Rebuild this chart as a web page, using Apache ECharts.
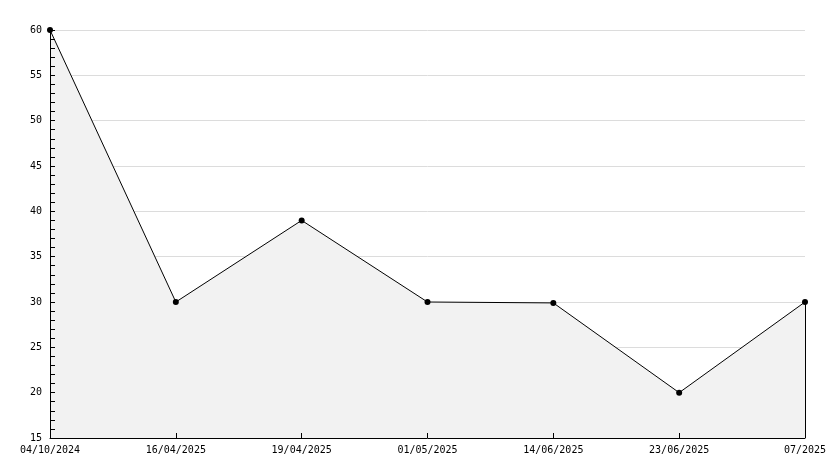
<!DOCTYPE html>
<html>
<head>
<meta charset="utf-8">
<script src="https://cdn.jsdelivr.net/npm/echarts@6/dist/echarts.min.js"></script>
<style>html,body{margin:0;padding:0;background:#fff}#c{width:834px;height:468px}</style>
</head>
<body>
<div id="c"></div>
<script>
const categories = ['04/10/2024', '16/04/2025', '19/04/2025', '01/05/2025', '14/06/2025', '23/06/2025', '07/2025'];
const values = [60, 30, 39, 30, 29.9, 20, 30];
const yMin = 15, yMax = 60, yStep = 5;

const chart = echarts.init(document.getElementById('c'), null, {renderer: 'canvas'});
const font = {fontFamily: 'DejaVu Sans Mono', fontSize: 10, color: '#000'};
const last = categories.length - 1;
chart.setOption({
  animation: false,
  backgroundColor: '#fff',
  grid: {left: 50, right: 29, top: 30, bottom: 30, containLabel: false},
  xAxis: [{
    type: 'category', data: categories, boundaryGap: false, position: 'bottom', z: 0,
    axisLine: {show: false}, axisTick: {show: false}, axisLabel: {show: false},
    splitLine: {show: false}
  }, {
    type: 'category', data: categories, boundaryGap: false, position: 'bottom', z: 10,
    axisLine: {show: true, onZero: false, lineStyle: {color: '#000', width: 1}},
    axisTick: {show: true, inside: true, length: 5, lineStyle: {color: '#000'}},
    axisLabel: Object.assign({margin: 7, interval: 0}, font),
    splitLine: {show: false}
  }],
  yAxis: [{
    type: 'value', min: yMin, max: yMax, interval: yStep, position: 'left', z: 0,
    axisLine: {show: false}, axisTick: {show: false}, axisLabel: {show: false},
    splitLine: {show: true, lineStyle: {color: '#dcdcdc', width: 1}}
  }, {
    type: 'value', min: yMin, max: yMax, interval: yStep, position: 'left', z: 10,
    axisLine: {show: true, onZero: false, lineStyle: {color: '#000', width: 1}},
    axisTick: {show: true, inside: true, length: 5, lineStyle: {color: '#000'}},
    minorTick: {show: true, splitNumber: 5, length: 5, lineStyle: {color: '#000'}},
    axisLabel: Object.assign({margin: 8}, font),
    splitLine: {show: false}
  }],
  series: [{
    type: 'line', data: values, xAxisIndex: 0, yAxisIndex: 0,
    symbol: 'circle', symbolSize: 6,
    itemStyle: {color: '#000'},
    lineStyle: {color: '#000', width: 1},
    areaStyle: {color: '#f2f2f2', opacity: 1, origin: 'start'},
    markLine: {
      silent: true, symbol: 'none', label: {show: false},
      lineStyle: {color: '#000', width: 1, type: 'solid'},
      data: [[{coord: [categories[last], values[last]]}, {coord: [categories[last], yMin]}]]
    }
  }]
});
</script>
</body>
</html>
